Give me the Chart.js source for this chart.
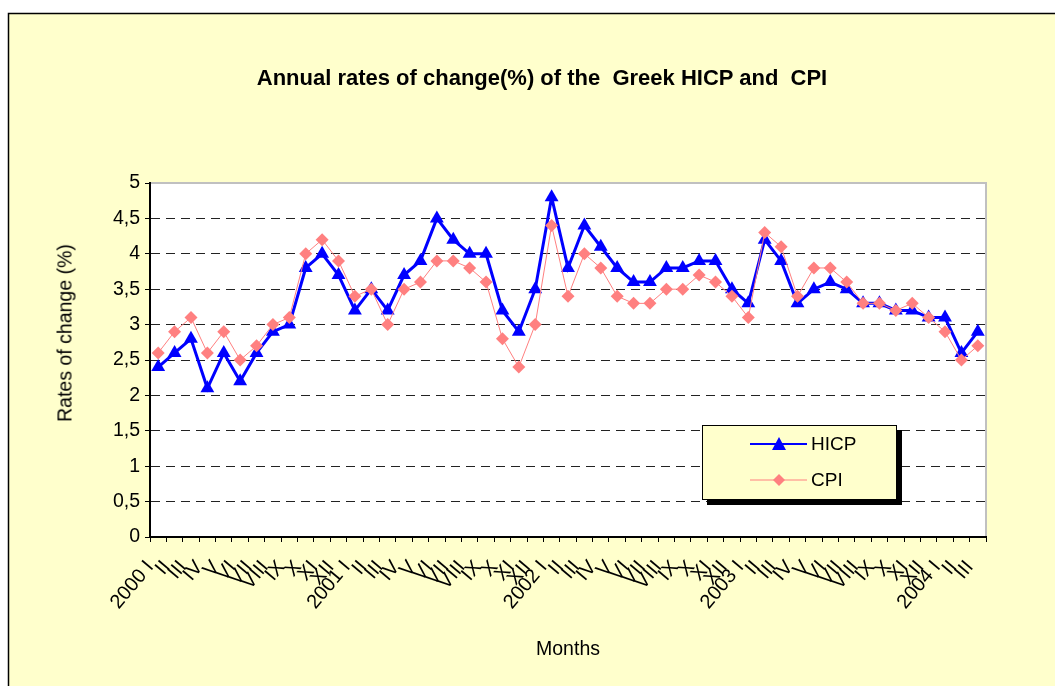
<!DOCTYPE html>
<html lang="en">
<head>
<meta charset="UTF-8" />
<title>Greek HICP and CPI</title>
<script src="https://cdn.jsdelivr.net/npm/chart.js"></script>
<style>
  body { margin: 0; overflow: hidden; background: #fff; font-family: "Liberation Sans", Arial, sans-serif; }
  #wrap { position: relative; width: 1055px; height: 686px; }
  #chartTitle { position: absolute; left: 242px; width: 600px; top: 65px; text-align: center;
    font-weight: bold; font-size: 22px; white-space: pre; color: #000; }
  #yTitle { position: absolute; left: 65px; top: 333px; transform: translate(-50%, -50%) rotate(-90deg);
    white-space: nowrap; font-size: 19.5px; color: #000; }
  #legend { position: absolute; left: 702px; top: 425px; width: 193px; height: 73px;
    background: #FFFFCC; border: 1px solid #000; box-shadow: 5px 5px 0 #000; }
  .row { position: absolute; left: 0; height: 24px; width: 190px; }
  .row svg { position: absolute; left: 47px; top: 4px; }
  .row span { position: absolute; left: 108px; top: 1px; font-size: 19px; color: #000; }
</style>
</head>
<body>
<div id="wrap">
  <canvas id="hicpChart" width="1055" height="686"></canvas>
  <div id="chartTitle">Annual rates of change(%) of the  Greek HICP and  CPI</div>
  <div id="yTitle">Rates of change (%)</div>
  <div id="legend">
    <div class="row" style="top:6px">
      <svg width="58" height="16"><line x1="0" y1="8" x2="57" y2="8" stroke="#0000FF" stroke-width="2"/>
        <polygon points="29,1 36,14 22,14" fill="#0000FF"/></svg>
      <span>HICP</span>
    </div>
    <div class="row" style="top:42px">
      <svg width="58" height="16"><line x1="0" y1="8" x2="57" y2="8" stroke="#FF8080" stroke-width="1"/>
        <polygon points="29,2 35,8 29,14 23,8" fill="#FF8080"/></svg>
      <span>CPI</span>
    </div>
  </div>
</div>

<script>
    // months 2000 I .. 2004 III
    const labels = [
        '2000 I', 'II', 'III', 'IV', 'V', 'VI', 'VII', 'VIII', 'IX', 'X', 'XI', 'XII',
        '2001 I', 'II', 'III', 'IV', 'V', 'VI', 'VII', 'VIII', 'IX', 'X', 'XI', 'XII',
        '2002 I', 'II', 'III', 'IV', 'V', 'VI', 'VII', 'VIII', 'IX', 'X', 'XI', 'XII',
        '2003 I', 'II', 'III', 'IV', 'V', 'VI', 'VII', 'VIII', 'IX', 'X', 'XI', 'XII',
        '2004 I', 'II', 'III'
    ];

    const hicp = [
        2.4, 2.6, 2.8, 2.1, 2.6, 2.2, 2.6, 2.9, 3.0, 3.8, 4.0, 3.7,
        3.2, 3.5, 3.2, 3.7, 3.9, 4.5, 4.2, 4.0, 4.0, 3.2, 2.9, 3.5,
        4.8, 3.8, 4.4, 4.1, 3.8, 3.6, 3.6, 3.8, 3.8, 3.9, 3.9, 3.5,
        3.3, 4.2, 3.9, 3.3, 3.5, 3.6, 3.5, 3.3, 3.3, 3.2, 3.2, 3.1,
        3.1, 2.6, 2.9
    ];

    const cpi = [
        2.6, 2.9, 3.1, 2.6, 2.9, 2.5, 2.7, 3.0, 3.1, 4.0, 4.2, 3.9,
        3.4, 3.5, 3.0, 3.5, 3.6, 3.9, 3.9, 3.8, 3.6, 2.8, 2.4, 3.0,
        4.4, 3.4, 4.0, 3.8, 3.4, 3.3, 3.3, 3.5, 3.5, 3.7, 3.6, 3.4,
        3.1, 4.3, 4.1, 3.4, 3.8, 3.8, 3.6, 3.3, 3.3, 3.2, 3.3, 3.1,
        2.9, 2.5, 2.7
    ];

    Chart.defaults.font.family = '"Liberation Sans", Arial, sans-serif';
    Chart.defaults.color = '#000';

    // yellow page, black frame, white plot area with grey border
    const background = {
        id: 'background',
        beforeDraw(chart) {
            const c = chart.ctx, a = chart.chartArea;
            c.save();
            c.fillStyle = '#fff';
            c.fillRect(0, 0, chart.width, chart.height);
            c.fillStyle = '#FFFFCC';
            c.fillRect(8, 13, chart.width, chart.height);
            c.strokeStyle = '#000';
            c.lineWidth = 1.5;
            c.beginPath();
            c.moveTo(8.5, chart.height);
            c.lineTo(8.5, 13.5);
            c.lineTo(chart.width, 13.5);
            c.stroke();
            c.fillStyle = '#fff';
            c.fillRect(a.left, a.top, a.right - a.left, a.bottom - a.top);
            c.strokeStyle = '#c0c0c0';
            c.lineWidth = 2;
            c.beginPath();
            c.moveTo(a.left, a.top);
            c.lineTo(a.right, a.top);
            c.lineTo(a.right, a.bottom);
            c.stroke();
            c.restore();
        }
    };

    const ctx = document.getElementById('hicpChart').getContext('2d');
    const chart = new Chart(ctx, {
        type: 'line',
        data: {
            labels: labels,
            datasets: [{
                label: 'HICP',
                data: hicp,
                borderColor: '#0000FF',
                backgroundColor: '#0000FF',
                borderWidth: 3,
                pointStyle: 'triangle',
                pointRadius: 8,
                pointBorderWidth: 0,
                pointBackgroundColor: '#0000FF',
                tension: 0,
                order: 1
            }, {
                label: 'CPI',
                data: cpi,
                borderColor: '#FF8080',
                backgroundColor: '#FF8080',
                borderWidth: 1,
                pointStyle: 'rectRot',
                pointRadius: 6.5,
                pointBorderWidth: 0,
                pointBackgroundColor: '#FF8080',
                tension: 0,
                order: 0
            }]
        },
        options: {
            responsive: false,
            animation: false,
            layout: { padding: { top: 183, right: 69, left: 0, bottom: 0 } },
            plugins: {
                legend: { display: false },
                tooltip: { enabled: false }
            },
            scales: {
                x: {
                    offset: true,
                    afterFit: s => { s.height = 149; },
                    ticks: { autoSkip: false, minRotation: 50, maxRotation: 50, font: { size: 20 }, padding: 14, labelOffset: -8 },
                    grid: { offset: true, drawOnChartArea: false, drawTicks: true, tickLength: 5, color: '#000', tickColor: '#000' },
                    border: { color: '#000', width: 2 },
                    title: { display: true, text: 'Months', font: { size: 19.5 }, padding: { top: 0, bottom: 25 } }
                },
                y: {
                    min: 0,
                    max: 5,
                    afterFit: s => { s.width = 150; },
                    ticks: {
                        stepSize: 0.5,
                        font: { size: 19.5 },
                        padding: 5,
                        callback: v => String(v).replace('.', ',')
                    },
                    grid: {
                        color: c => (c.tick && (c.tick.value === 0 || c.tick.value === 5)) ? 'rgba(0,0,0,0)' : '#222',
                        tickColor: '#000',
                        tickLength: 5,
                        tickBorderDash: [],
                        lineWidth: 1
                    },
                    border: { color: '#000', width: 2, dash: [9, 6] }
                }
            }
        },
        plugins: [background]
    });
</script>
</body>
</html>
